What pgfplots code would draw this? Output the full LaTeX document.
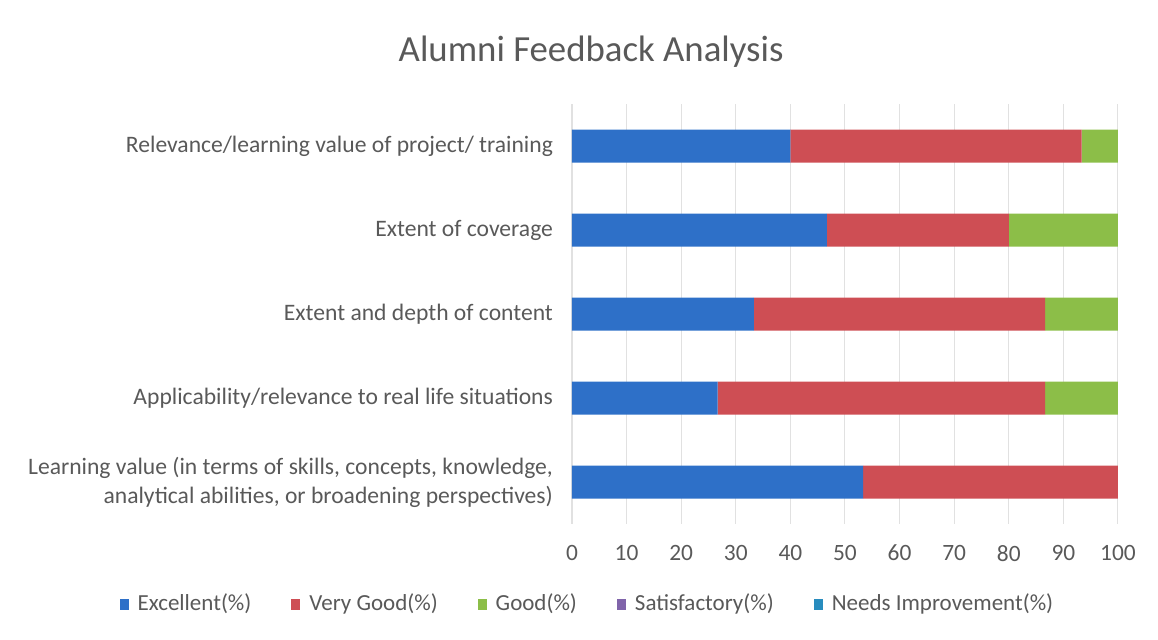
\documentclass[border=0pt]{standalone}
\usepackage{pgfplots}
\pgfplotsset{compat=1.18}
\usepackage{fontspec}
\setmainfont{Carlito}
\definecolor{txt}{RGB}{89,89,89}
\definecolor{cExc}{RGB}{46,112,200}
\definecolor{cVG}{RGB}{206,78,84}
\definecolor{cGood}{RGB}{140,190,72}
\definecolor{cSat}{RGB}{128,100,170}
\definecolor{cNI}{RGB}{40,140,190}
\definecolor{gridc}{RGB}{225,225,225}
\begin{document}
\begin{tikzpicture}
\useasboundingbox (-286pt,-57.5pt) rectangle (293pt,262pt);
\begin{axis}[
  at={(0,0)}, anchor=south west,
  scale only axis,
  width=273pt, height=210pt,
  xbar stacked,
  bar width=16.5pt,
  xmin=0, xmax=100,
  ymin=-0.5, ymax=4.5,
  xtick={0,10,...,100},
  ytick={0,1,2,3,4},
  yticklabels={{Learning value (in terms of skills, concepts, knowledge,\\analytical abilities, or broadening perspectives)},
    {Applicability/relevance to real life situations},
    {Extent and depth of content},
    {Extent of coverage},
    {Relevance/learning value of project/ training}},
  yticklabel style={align=right, font=\fontsize{11.8}{14.5}\selectfont, text=txt, xshift=-6pt},
  xticklabel style={font=\fontsize{11.7}{14}\selectfont, text=txt, yshift=-7pt},
  /pgf/number format/assume math mode=true,
  xmajorgrids, grid style={gridc, line width=0.5pt},
  axis x line*=bottom, axis y line*=left,
  x axis line style={draw=none},
  y axis line style={gridc},
  tick style={draw=none},
  major tick length=0pt,
  title={\fontsize{18.4}{22}\selectfont Alumni Feedback Analysis},
  title style={at={(0.035,1.095)}, anchor=center, text=txt},
  legend style={at={(0.03,-0.1905)}, anchor=center, draw=none, legend columns=-1,
    font=\fontsize{11.5}{13}\selectfont, text=txt,
    /tikz/every even column/.append style={column sep=18pt}},
  legend image code/.code={\fill (0pt,-2.75pt) rectangle (4.5pt,2.75pt); \path (7pt,0pt);},
]
\addplot[fill=cExc, draw=none] coordinates {(53.33,0) (26.67,1) (33.33,2) (46.67,3) (40,4)};
\addplot[fill=cVG, draw=none] coordinates {(46.67,0) (60,1) (53.33,2) (33.33,3) (53.33,4)};
\addplot[fill=cGood, draw=none] coordinates {(0,0) (13.33,1) (13.33,2) (20,3) (6.67,4)};
\addlegendimage{fill=cSat, draw=none}
\addlegendimage{fill=cNI, draw=none}
\legend{Excellent(\%), Very Good(\%), Good(\%), Satisfactory(\%), Needs Improvement(\%)}
\end{axis}
\end{tikzpicture}
\end{document}
